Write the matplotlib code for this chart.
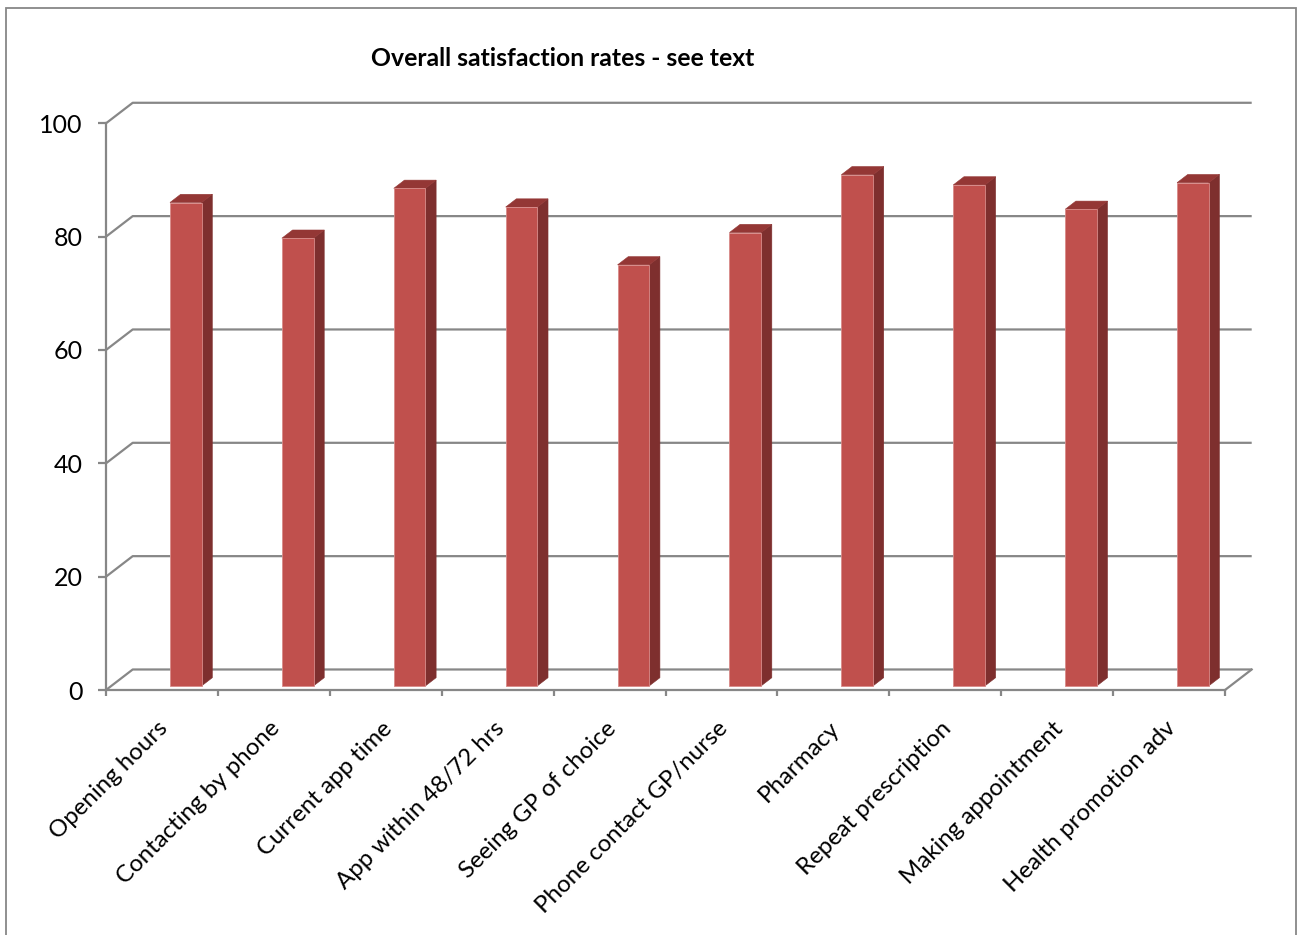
import matplotlib.pyplot as plt
from matplotlib.patches import Polygon, Rectangle

categories = ['Opening hours', 'Contacting by phone', 'Current app time',
              'App within 48/72 hrs', 'Seeing GP of choice', 'Phone contact GP/nurse',
              'Pharmacy', 'Repeat prescription', 'Making appointment',
              'Health promotion adv']
satisfaction = [85.3, 79.0, 87.8, 84.5, 74.3, 80.0, 90.2, 88.4, 84.1, 88.8]
y_ticks = [0, 20, 40, 60, 80, 100]
title = 'Overall satisfaction rates - see text'

GRAY = '#878787'
FRONT = '#C0504D'
SIDE = '#7E2F2E'
TOP = '#943735'

plt.rcParams['font.family'] = ['Lato', 'DejaVu Sans']

W, H = 1298, 935
fig = plt.figure(figsize=(W / 100, H / 100), dpi=100)
fig.patch.set_facecolor('white')

# chart-area border (Excel style)
fig.patches.append(Rectangle((6 / W, -0.05), 1290 / W, 1.05 - 8 / H,
                             transform=fig.transFigure, fill=False,
                             edgecolor=GRAY, lw=1.3))

ax = fig.add_axes([106 / W, (H - 690) / H, (1225 - 106) / W, (690 - 123.3) / H])
n = len(categories)
ax.set_xlim(0, n)
ax.set_ylim(0, 100)
ax.set_facecolor('none')

# oblique depth vector (data units) for the fake 3D look
DX, DY = 0.2386, 3.62

# back wall gridlines + floor
for v in y_ticks:
    ax.plot([0, DX, n + DX], [v, v + DY, v + DY], color=GRAY, lw=1.6,
            clip_on=False, zorder=1, solid_capstyle='butt')
ax.plot([n, n + DX], [0, DY], color=GRAY, lw=1.6, clip_on=False, zorder=1)

# 3D-looking columns
d0, d1 = 0.2, 0.6
bw = 0.283
for i, v in enumerate(satisfaction):
    xl = i + 0.524 + d0 * DX
    xr = xl + bw
    b0, t0 = d0 * DY, v + d0 * DY
    sx = (d1 - d0) * DX
    sy = (d1 - d0) * DY
    front = Polygon([(xl, b0), (xr, b0), (xr, t0), (xl, t0)], closed=True,
                    facecolor=FRONT, edgecolor='#D88B89', lw=0.6, clip_on=False, zorder=3)
    side = Polygon([(xr, b0), (xr + sx, b0 + sy), (xr + sx, t0 + sy), (xr, t0)], closed=True,
                   facecolor=SIDE, edgecolor=SIDE, lw=0.4, clip_on=False, zorder=3)
    top = Polygon([(xl, t0), (xr, t0), (xr + sx, t0 + sy), (xl + sx, t0 + sy)], closed=True,
                  facecolor=TOP, edgecolor=TOP, lw=0.4, clip_on=False, zorder=3)
    ax.add_patch(side)
    ax.add_patch(top)
    ax.add_patch(front)

for s in ['top', 'right']:
    ax.spines[s].set_visible(False)
for s in ['left', 'bottom']:
    ax.spines[s].set_color(GRAY)
    ax.spines[s].set_linewidth(1.6)
    ax.spines[s].set_zorder(2)

ax.set_yticks(y_ticks)
ax.set_yticklabels([str(t) for t in y_ticks])
ax.tick_params(axis='y', direction='out', length=5.8, width=1.6, color=GRAY,
               labelsize=18, pad=11, labelcolor='black')

ax.set_xticks(range(n + 1))
ax.set_xticklabels([])
ax.tick_params(axis='x', which='major', direction='out', length=4.3, width=1.6, color=GRAY)
ax.set_xticks([i + 0.46 for i in range(n)], minor=True)
ax.set_xticklabels(categories, minor=True, rotation=45, ha='right', va='top',
                   rotation_mode='anchor', fontsize=17.3)
ax.tick_params(axis='x', which='minor', length=0, pad=20)

fig.text(563 / W, 1 - 58 / H, title, ha='center', va='center',
         fontsize=17.8, fontweight='bold')

fig.savefig('out.png', dpi=100)
